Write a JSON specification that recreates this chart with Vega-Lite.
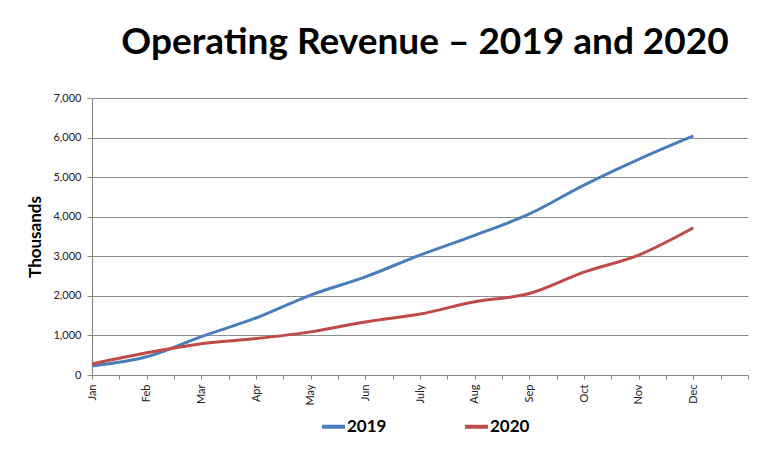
{
  "$schema": "https://vega.github.io/schema/vega-lite/v6.json",
  "width": 656,
  "height": 277,
  "autosize": {"type": "none"},
  "padding": {"left": 92, "top": 98, "right": 27, "bottom": 74},
  "background": "white",
  "title": {
    "text": "Operating Revenue – 2019 and 2020",
    "font": "Lato",
    "fontSize": 37,
    "fontWeight": "bold",
    "color": "#000000",
    "anchor": "middle",
    "baseline": "alphabetic",
    "offset": 1,
    "dx": 5
  },
  "data": {
    "values": [
      {"month": "Jan", "m": 1, "year": "2019", "value": 230},
      {"month": "Feb", "m": 2, "year": "2019", "value": 460},
      {"month": "Mar", "m": 3, "year": "2019", "value": 970},
      {"month": "Apr", "m": 4, "year": "2019", "value": 1440},
      {"month": "May", "m": 5, "year": "2019", "value": 2020},
      {"month": "Jun", "m": 6, "year": "2019", "value": 2480},
      {"month": "July", "m": 7, "year": "2019", "value": 3030},
      {"month": "Aug", "m": 8, "year": "2019", "value": 3530},
      {"month": "Sep", "m": 9, "year": "2019", "value": 4070},
      {"month": "Oct", "m": 10, "year": "2019", "value": 4800},
      {"month": "Nov", "m": 11, "year": "2019", "value": 5450},
      {"month": "Dec", "m": 12, "year": "2019", "value": 6040},
      {"month": "Jan", "m": 1, "year": "2020", "value": 280},
      {"month": "Feb", "m": 2, "year": "2020", "value": 560},
      {"month": "Mar", "m": 3, "year": "2020", "value": 790},
      {"month": "Apr", "m": 4, "year": "2020", "value": 920},
      {"month": "May", "m": 5, "year": "2020", "value": 1090},
      {"month": "Jun", "m": 6, "year": "2020", "value": 1340},
      {"month": "July", "m": 7, "year": "2020", "value": 1540},
      {"month": "Aug", "m": 8, "year": "2020", "value": 1850},
      {"month": "Sep", "m": 9, "year": "2020", "value": 2060},
      {"month": "Oct", "m": 10, "year": "2020", "value": 2600},
      {"month": "Nov", "m": 11, "year": "2020", "value": 3030},
      {"month": "Dec", "m": 12, "year": "2020", "value": 3720}
    ]
  },
  "mark": {"type": "line", "strokeWidth": 3, "interpolate": "monotone"},
  "encoding": {
    "x": {
      "field": "m",
      "type": "quantitative",
      "scale": {"domain": [1, 13], "nice": false, "zero": false},
      "axis": {
        "title": null,
        "values": [1, 1.5, 2, 2.5, 3, 3.5, 4, 4.5, 5, 5.5, 6, 6.5, 7, 7.5, 8, 8.5, 9, 9.5, 10, 10.5, 11, 11.5, 12, 12.5, 13],
        "labelExpr": "datum.value % 1 == 0 && datum.value <= 12 ? ['Jan','Feb','Mar','Apr','May','Jun','July','Aug','Sep','Oct','Nov','Dec'][datum.value - 1] : ''",
        "labelAngle": -90,
        "labelAlign": "right",
        "labelBaseline": "middle",
        "labelFont": "Lato",
        "labelFontSize": 11,
        "labelColor": "#222222",
        "labelPadding": 5,
        "labelOverlap": false,
        "labelFlush": false,
        "grid": false,
        "domainColor": "#888888",
        "domainWidth": 1.2,
        "tickColor": "#888888",
        "tickSize": 4
      }
    },
    "y": {
      "field": "value",
      "type": "quantitative",
      "scale": {"domain": [0, 7000], "nice": false},
      "axis": {
        "title": "Thousands",
        "titleFont": "Lato",
        "titleFontSize": 17,
        "titleFontWeight": "bold",
        "titleColor": "#000000",
        "titlePadding": 8,
        "values": [0, 1000, 2000, 3000, 4000, 5000, 6000, 7000],
        "format": ",.0f",
        "labelFont": "Lato",
        "labelFontSize": 11,
        "labelColor": "#222222",
        "labelPadding": 6,
        "gridColor": "#8c8c8c",
        "gridWidth": 1,
        "domainColor": "#888888",
        "domainWidth": 1.2,
        "tickColor": "#888888",
        "tickSize": 5
      }
    },
    "color": {
      "field": "year",
      "type": "nominal",
      "scale": {"domain": ["2019", "2020"], "range": ["#4a7ebb", "#be4b48"]},
      "legend": {
        "title": null,
        "orient": "none",
        "legendX": 228,
        "legendY": 315,
        "direction": "horizontal",
        "symbolType": "stroke",
        "symbolSize": 529,
        "symbolStrokeWidth": 4,
        "labelFont": "Lato",
        "labelFontSize": 17,
        "labelFontWeight": "bold",
        "labelColor": "#000000",
        "labelOffset": 0,
        "columnPadding": 70
      }
    }
  },
  "config": {
    "view": {"stroke": null}
  }
}
